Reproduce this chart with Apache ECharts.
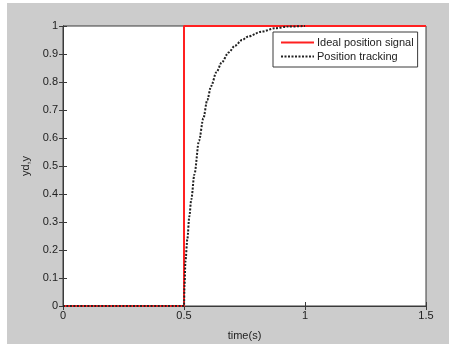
<!DOCTYPE html>
<html>
<head>
<meta charset="utf-8">
<script src="https://cdn.jsdelivr.net/npm/echarts@6/dist/echarts.min.js"></script>
<style>
html,body{margin:0;padding:0;background:#ffffff;}
#chart{width:449px;height:346px;}
</style>
</head>
<body>
<div id="chart"></div>
<script>
// Ideal position signal (step at t = 0.5 s)
var idealTime  = [0, 0.5, 0.5, 1.5];
var idealValue = [0, 0,   1,   1];

// Position tracking
var trackTime  = [0, 0.5, 0.502, 0.506, 0.514, 0.522, 0.530, 0.543, 0.562, 0.580, 0.596, 0.612, 0.634, 0.656, 0.684, 0.711, 0.740, 0.766, 0.821, 0.876, 0.930, 1.0];
var trackValue = [0, 0,   0.07,  0.16,  0.24,  0.32,  0.38,  0.47,  0.59,  0.67,  0.735, 0.785, 0.835, 0.87,  0.905, 0.93,  0.95,  0.963, 0.98,  0.992, 0.998, 1.0];

var xTicks = ['0', '0.5', '1', '1.5'];
var yTicks = ['0','0.1','0.2','0.3','0.4','0.5','0.6','0.7','0.8','0.9','1'];
var seriesNames = ['Ideal position signal', 'Position tracking'];

function pairs(xs, ys){ return xs.map(function(x,i){ return [x, ys[i]]; }); }

var axisColor = '#3a3a3a';
var labelColor = '#222222';
var font = 'Liberation Sans, Arial, sans-serif';

var chart = echarts.init(document.getElementById('chart'), null, {renderer:'canvas'});
chart.setOption({
  animation: false,
  backgroundColor: '#ffffff',
  graphic: [{
    type: 'rect', z: -10, silent: true,
    shape: {x: 7, y: 3, width: 442, height: 341},
    style: {fill: '#cccccc'}
  }],
  grid: {
    left: 63, top: 26, right: 23, bottom: 33,
    show: true, backgroundColor: '#ffffff', borderColor: axisColor, borderWidth: 1
  },
  legend: {
    left: 273, top: 32, orient: 'vertical',
    data: seriesNames,
    itemWidth: 33, itemHeight: 12, itemGap: 3,
    padding: [5, 4, 5, 7],
    backgroundColor: '#ffffff', borderColor: axisColor, borderWidth: 1,
    itemStyle: {opacity: 0},
    textStyle: {fontSize: 11, color: labelColor, fontFamily: font, padding: [0,0,0,-2]}
  },
  xAxis: [{
    type: 'value', min: 0, max: 1.5, interval: 0.5,
    name: 'time(s)', nameLocation: 'middle', nameGap: 24,
    nameTextStyle: {fontSize: 11, color: labelColor, fontFamily: font},
    axisLine: {show: true, lineStyle: {color: axisColor, width: 1}},
    axisTick: {show: true, inside: true, length: 4, lineStyle: {color: axisColor}},
    axisLabel: {fontSize: 11, color: labelColor, fontFamily: font, margin: 4,
      formatter: function(v){ return xTicks[Math.round(v/0.5)]; }},
    splitLine: {show: false}
  }, {
    type: 'value', min: 0, max: 1.5, interval: 0.5, position: 'top',
    axisLine: {show: true, lineStyle: {color: axisColor, width: 1}},
    axisTick: {show: true, inside: true, length: 4, lineStyle: {color: axisColor}},
    axisLabel: {show: false}, splitLine: {show: false}
  }],
  yAxis: [{
    type: 'value', min: 0, max: 1, interval: 0.1,
    name: 'yd,y', nameLocation: 'middle', nameGap: 31, nameRotate: 90,
    nameTextStyle: {fontSize: 11, color: labelColor, fontFamily: font},
    axisLine: {show: true, lineStyle: {color: axisColor, width: 1}},
    axisTick: {show: true, inside: true, length: 4, lineStyle: {color: axisColor}},
    axisLabel: {fontSize: 11, color: labelColor, fontFamily: font, margin: 5,
      formatter: function(v){ return yTicks[Math.round(v*10)]; }},
    splitLine: {show: false}
  }, {
    type: 'value', min: 0, max: 1, interval: 0.1, position: 'right',
    axisLine: {show: true, lineStyle: {color: axisColor, width: 1}},
    axisTick: {show: true, inside: true, length: 4, lineStyle: {color: axisColor}},
    axisLabel: {show: false}, splitLine: {show: false}
  }],
  series: [{
    name: seriesNames[0], type: 'line', data: pairs(idealTime, idealValue),
    showSymbol: false, symbol: 'none', clip: false, z: 3,
    lineStyle: {color: '#ff2020', width: 2},
    itemStyle: {color: '#ff2020'}
  }, {
    name: seriesNames[1], type: 'line', data: pairs(trackTime, trackValue),
    showSymbol: false, symbol: 'none', clip: false, z: 4,
    smooth: 0.3, smoothMonotone: 'x',
    lineStyle: {color: '#222222', width: 2, type: [2, 1.5]},
    itemStyle: {color: '#222222'}
  }]
});
</script>
</body>
</html>
